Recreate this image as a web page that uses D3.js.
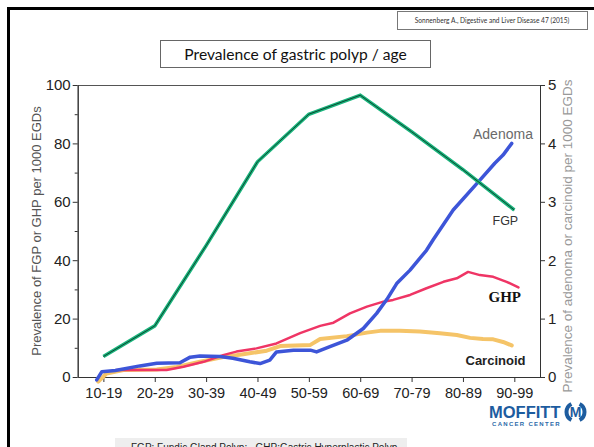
<!DOCTYPE html>
<html>
<head>
<meta charset="utf-8">
<script src="https://cdn.jsdelivr.net/npm/d3@7"></script>
<style>
  body { margin: 0; background: #fff; }
  svg { display: block; }
  .axis text { font-family: "Liberation Sans", Arial, sans-serif; fill: #222; }
  .axis path, .axis line { stroke: #333; }
</style>
</head>
<body>
<div id="chart"></div>
<script>
`use strict`;

// age groups on the x axis, placed at the middle age of each decade
const categories = ['10-19', '20-29', '30-39', '40-49', '50-59', '60-69', '70-79', '80-89', '90-99'];
const categoryAge = [15, 25, 35, 45, 55, 65, 75, 85, 95];

// FGP per 1000 EGDs (left axis), one value per age group
const fgpValues = [7, 17.5, 45, 73.7, 90, 96.5, 84, 71, 57.2];

// GHP per 1000 EGDs (left axis)
const ghpAge = [17.6, 27.3, 30.6, 34.5, 38.3, 40.9, 44.8, 48.7, 53.3, 57.2, 59.8, 63.0, 66.3, 69.5, 71.4, 74.7, 77.9, 81.2, 83.8, 86.0, 88.3, 90.9, 93.5, 95.8];
const ghpValues = [2.4, 2.4, 3.5, 5.2, 7.5, 8.7, 9.8, 11.5, 15.0, 17.5, 18.6, 21.8, 24.1, 25.8, 26.4, 28.1, 30.4, 32.6, 33.8, 36.0, 34.9, 34.3, 32.6, 30.7];

// adenoma per 1000 EGDs (right axis)
const adenomaAge = [13.7, 14.7, 17.3, 22.1, 25.4, 29.9, 31.9, 33.8, 37.7, 40.2, 43.5, 45.5, 47.4, 48.7, 52.0, 55.3, 56.5, 59.1, 62.4, 65.6, 68.2, 70.2, 72.1, 74.7, 77.9, 79.2, 83.1, 88.3, 91.2, 92.8, 94.5];
const adenomaValues = [-0.05, 0.09, 0.11, 0.19, 0.236, 0.245, 0.34, 0.36, 0.35, 0.32, 0.26, 0.23, 0.29, 0.43, 0.46, 0.46, 0.43, 0.52, 0.63, 0.83, 1.09, 1.33, 1.6, 1.83, 2.17, 2.35, 2.86, 3.37, 3.66, 3.8, 4.0];

// carcinoid per 1000 EGDs (right axis)
const carcinoidAge = [14.0, 15.6, 18.9, 25.4, 29.3, 33.8, 38.3, 42.2, 46.8, 49.4, 55.3, 57.2, 62.4, 66.3, 68.9, 72.7, 76.6, 80.5, 83.8, 86.4, 88.9, 90.9, 92.8, 94.5];
const carcinoidValues = [-0.08, 0.06, 0.12, 0.13, 0.17, 0.26, 0.34, 0.39, 0.45, 0.53, 0.55, 0.65, 0.7, 0.76, 0.79, 0.79, 0.78, 0.75, 0.72, 0.67, 0.65, 0.645, 0.6, 0.54];

const leftTicks = [0, 20, 40, 60, 80, 100];
const leftMinorTicks = [10, 30, 50, 70, 90];
const rightTicks = [0, 1, 2, 3, 4, 5];

let w = 594, h = 447;
let plot = {left: 77.7, right: 540, top: 85, bottom: 377};

let svg = d3.select('#chart').append('svg')
    .attr('width', w).attr('height', h);

//slide frame
svg.append('rect').attr('x', 8.5).attr('y', 8.5).attr('width', 620).attr('height', 500)
    .attr('fill', 'none').attr('stroke', '#000').attr('stroke-width', 3);

//citation box
svg.append('rect').attr('x', 397.5).attr('y', 11.5).attr('width', 190).attr('height', 18)
    .attr('fill', '#fff').attr('stroke', '#777');
svg.append('text').attr('x', 492).attr('y', 23).attr('text-anchor', 'middle')
    .style('font-family', 'Lato, sans-serif').style('font-size', '6.6px').attr('fill', '#333')
    .text('Sonnenberg A., Digestive and Liver Disease 47 (2015)');

//title box
svg.append('rect').attr('x', 160.5).attr('y', 40.5).attr('width', 270).attr('height', 27)
    .attr('fill', '#fff').attr('stroke', '#666');
svg.append('text').attr('x', 295.5).attr('y', 59.5).attr('text-anchor', 'middle')
    .style('font-family', 'Lato, sans-serif').style('font-size', '15.6px').attr('fill', '#111')
    .text('Prevalence of gastric polyp / age');

let scales = {
    x: d3.scaleLinear().domain([10, 100]).range([plot.left, plot.right]),
    left: d3.scaleLinear().domain([0, 100]).range([plot.bottom, plot.top]),
    right: d3.scaleLinear().domain([0, 5]).range([plot.bottom, plot.top])
};

//top frame line
svg.append('line').attr('x1', plot.left).attr('x2', plot.right)
    .attr('y1', plot.top + 0.5).attr('y2', plot.top + 0.5)
    .attr('stroke', '#555').attr('stroke-width', 1);

let axes = {};
axes.x = d3.axisBottom(scales.x).tickValues(categoryAge)
    .tickFormat((d, i) => categories[i]).tickSize(5).tickPadding(6).tickSizeOuter(0);
axes.left = d3.axisLeft(scales.left).tickValues(leftTicks).tickSize(5).tickPadding(2).tickSizeOuter(0);
axes.leftMinor = d3.axisLeft(scales.left).tickValues(leftMinorTicks).tickSize(3).tickFormat('').tickSizeOuter(0);
axes.right = d3.axisRight(scales.right).tickValues(rightTicks).tickFormat(d3.format('d'))
    .tickSize(5).tickPadding(3).tickSizeOuter(0);

svg.append('g').classed('axis', true)
    .attr('transform', `translate(0,${plot.bottom})`).call(axes.x)
    .selectAll('text').style('font-size', '14.5px');
svg.append('g').classed('axis', true)
    .attr('transform', `translate(${plot.left},0)`).call(axes.left)
    .selectAll('text').style('font-size', '15px');
svg.append('g').classed('axis', true)
    .attr('transform', `translate(${plot.left},0)`).call(axes.leftMinor);
svg.append('g').classed('axis', true)
    .attr('transform', `translate(${plot.right},0)`).call(axes.right)
    .selectAll('text').style('font-size', '15px');

//axis titles
svg.append('text').attr('transform', 'translate(41,231) rotate(-90)')
    .attr('text-anchor', 'middle').attr('fill', '#555')
    .style('font-family', '"Liberation Sans", Arial, sans-serif').style('font-size', '13px')
    .text('Prevalence of FGP or GHP per 1000 EGDs');
svg.append('text').attr('transform', 'translate(572,236) rotate(-90)')
    .attr('text-anchor', 'middle').attr('fill', '#999')
    .style('font-family', '"Liberation Sans", Arial, sans-serif').style('font-size', '13.5px')
    .text('Prevalence of adenoma or carcinoid per 1000 EGDs');

let line = d3.line().x(d => scales.x(d.age)).y(d => d.y).curve(d3.curveLinear);

function series(ages, values, scale){
    return ages.map((a, i) => ({age: a, y: scale(values[i])}));
}

//carcinoid
svg.append('path').datum(series(carcinoidAge, carcinoidValues, scales.right))
    .attr('d', line).attr('fill', 'none').attr('stroke', '#f5c468')
    .attr('stroke-width', 4).attr('stroke-linejoin', 'round').attr('stroke-linecap', 'round');

//GHP
svg.append('path').datum(series(ghpAge, ghpValues, scales.left))
    .attr('d', line).attr('fill', 'none').attr('stroke', '#ef3565')
    .attr('stroke-width', 2.5).attr('stroke-linejoin', 'round').attr('stroke-linecap', 'round');

//adenoma
svg.append('path').datum(series(adenomaAge, adenomaValues, scales.right))
    .attr('d', line).attr('fill', 'none').attr('stroke', '#3d55d8')
    .attr('stroke-width', 3.5).attr('stroke-linejoin', 'round').attr('stroke-linecap', 'round');

//FGP: green edge with a dark core
let fgp = series(categoryAge, fgpValues, scales.left);
svg.append('path').datum(fgp).attr('d', line).attr('fill', 'none')
    .attr('stroke', '#19b47c').attr('stroke-width', 3.6).attr('stroke-linejoin', 'miter');
svg.append('path').datum(fgp).attr('d', line).attr('fill', 'none')
    .attr('stroke', '#0b3a28').attr('stroke-width', 0.9);

//series labels
let labels = [
    {text: 'Adenoma', x: 473, y: 139, size: '14px', fill: '#6a6a6a', weight: 'normal', font: '"Liberation Sans", Arial, sans-serif'},
    {text: 'FGP', x: 492.5, y: 225, size: '12.5px', fill: '#333', weight: 'normal', font: '"Liberation Sans", Arial, sans-serif'},
    {text: 'GHP', x: 488.5, y: 302, size: '15px', fill: '#111', weight: 'bold', font: '"Liberation Serif", "Times New Roman", serif'},
    {text: 'Carcinoid', x: 465.5, y: 365, size: '13px', fill: '#222', weight: 'bold', font: '"Liberation Sans", Arial, sans-serif'}
];
for(let l of labels){
    svg.append('text').attr('x', l.x).attr('y', l.y)
        .style('font-family', l.font).style('font-size', l.size).style('font-weight', l.weight)
        .attr('fill', l.fill).text(l.text);
}

//logo
svg.append('text').attr('x', 489).attr('y', 418)
    .style('font-family', '"Liberation Sans", Arial, sans-serif').style('font-size', '16.5px')
    .style('font-weight', 'bold').attr('fill', '#1d5c9f').text('MOFFITT');
svg.append('text').attr('x', 492).attr('y', 425.5)
    .style('font-family', '"Liberation Sans", Arial, sans-serif').style('font-size', '6px')
    .style('font-weight', 'bold').style('letter-spacing', '1.3px').attr('fill', '#2b6aa9').text('CANCER CENTER');
let arc = d3.arc();
let logo = svg.append('g').attr('transform', 'translate(575.5,412)');
logo.append('path').attr('fill', '#1d5c9f')
    .attr('d', arc({innerRadius: 7, outerRadius: 11, startAngle: -Math.PI * 0.85, endAngle: -Math.PI * 0.15}));
logo.append('path').attr('fill', '#1d5c9f')
    .attr('d', arc({innerRadius: 7, outerRadius: 11, startAngle: Math.PI * 0.15, endAngle: Math.PI * 0.85}));
logo.append('text').attr('text-anchor', 'middle').attr('y', 5)
    .style('font-family', '"Liberation Sans", Arial, sans-serif').style('font-size', '14px')
    .style('font-weight', 'bold').attr('fill', '#1d5c9f').text('M');

//footnote, cut by the bottom edge as on the slide
svg.append('rect').attr('x', 115).attr('y', 438).attr('width', 292).attr('height', 20).attr('fill', '#eeeeee');
svg.append('text').attr('x', 131).attr('y', 450.5)
    .style('font-family', '"Liberation Sans", Arial, sans-serif').style('font-size', '10px')
    .attr('fill', '#222').attr('xml:space', 'preserve')
    .text('FGP: Fundic Gland Polyp;   GHP:Gastric Hyperplastic Polyp');
</script>
</body>
</html>
